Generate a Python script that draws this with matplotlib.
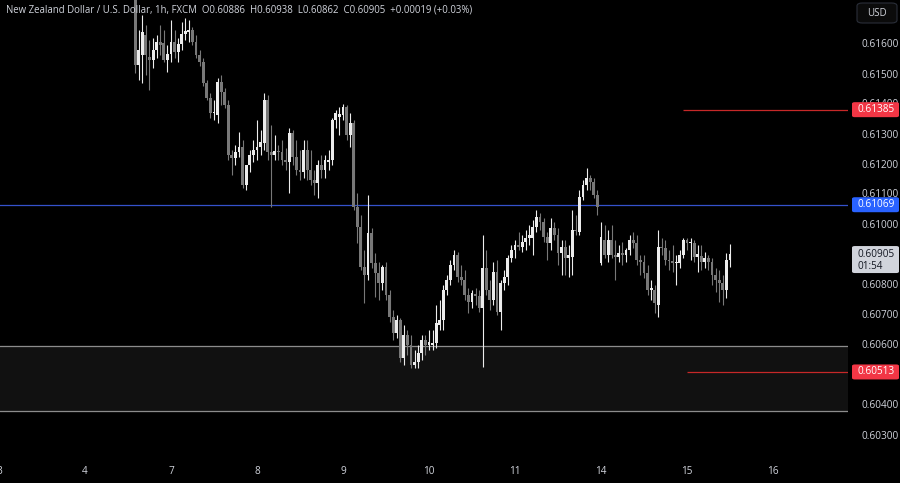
import numpy as np
import matplotlib
matplotlib.use('Agg')
import matplotlib.pyplot as plt
import matplotlib.patches as patches

# NZDUSD 1h candles (index 0 = midnight of the 3rd)
first_idx = 38
opens = [0.61766, 0.61534, 0.61567, 0.61633, 0.61560, 0.61550, 0.61583, 0.61610, 0.61607, 0.61550,
         0.61570, 0.61610, 0.61577, 0.61603, 0.61637, 0.61643, 0.61650, 0.61610, 0.61567, 0.61543,
         0.61474, 0.61424, 0.61374, 0.61367, 0.61477, 0.61444, 0.61401, 0.61234, 0.61224, 0.61244,
         0.61261, 0.61135, 0.61201, 0.61234, 0.61251, 0.61261, 0.61274, 0.61417, 0.61244, 0.61234,
         0.61248, 0.61244, 0.61218, 0.61211, 0.61307, 0.61228, 0.61184, 0.61178, 0.61251, 0.61184,
         0.61151, 0.61141, 0.61201, 0.61184, 0.61211, 0.61218, 0.61351, 0.61361, 0.61367, 0.61394,
         0.61301, 0.61341, 0.61061, 0.60995, 0.60862, 0.60835, 0.60975, 0.60875, 0.60842, 0.60809,
         0.60862, 0.60769, 0.60696, 0.60643, 0.60686, 0.60559, 0.60636, 0.60603, 0.60536, 0.60546,
         0.60576, 0.60619, 0.60603, 0.60603, 0.60609, 0.60669, 0.60686, 0.60785, 0.60819, 0.60869,
         0.60902, 0.60829, 0.60819, 0.60769, 0.60746, 0.60772, 0.60766, 0.60726, 0.60859, 0.60785,
         0.60752, 0.60845, 0.60712, 0.60809, 0.60829, 0.60892, 0.60918, 0.60935, 0.60928, 0.60945,
         0.60958, 0.60958, 0.60995, 0.61028, 0.61012, 0.60962, 0.60942, 0.60992, 0.60968, 0.60909,
         0.60928, 0.60892, 0.60895, 0.60985, 0.60978, 0.61095, 0.61135, 0.61158, 0.61145, 0.61101,
         0.60875, 0.60952, 0.60902, 0.60952, 0.60902, 0.60895, 0.60909, 0.60902, 0.60918, 0.60952,
         0.60942, 0.60885, 0.60879, 0.60842, 0.60785, 0.60785, 0.60736, 0.60928, 0.60925, 0.60885,
         0.60882, 0.60875, 0.60875, 0.60902, 0.60952, 0.60942, 0.60942, 0.60895, 0.60898, 0.60879,
         0.60892, 0.60879, 0.60835, 0.60819, 0.60809, 0.60785, 0.60886]
highs = [0.61783, 0.61650, 0.61700, 0.61666, 0.61617, 0.61623, 0.61633, 0.61666, 0.61650, 0.61600,
         0.61683, 0.61650, 0.61623, 0.61676, 0.61690, 0.61683, 0.61660, 0.61633, 0.61583, 0.61557,
         0.61484, 0.61440, 0.61417, 0.61490, 0.61500, 0.61457, 0.61417, 0.61251, 0.61268, 0.61311,
         0.61284, 0.61201, 0.61251, 0.61284, 0.61351, 0.61317, 0.61440, 0.61434, 0.61334, 0.61301,
         0.61268, 0.61284, 0.61258, 0.61324, 0.61317, 0.61284, 0.61251, 0.61284, 0.61284, 0.61251,
         0.61184, 0.61218, 0.61234, 0.61234, 0.61251, 0.61357, 0.61384, 0.61394, 0.61404, 0.61401,
         0.61374, 0.61351, 0.61108, 0.61035, 0.60918, 0.61101, 0.60992, 0.60909, 0.60879, 0.60869,
         0.60879, 0.60785, 0.60719, 0.60702, 0.60692, 0.60669, 0.60653, 0.60636, 0.60586, 0.60603,
         0.60636, 0.60636, 0.60653, 0.60653, 0.60736, 0.60752, 0.60802, 0.60835, 0.60885, 0.60918,
         0.60912, 0.60869, 0.60852, 0.60792, 0.60785, 0.60792, 0.60785, 0.60968, 0.60918, 0.60819,
         0.60879, 0.60885, 0.60819, 0.60852, 0.60902, 0.60935, 0.60952, 0.60978, 0.60968, 0.60985,
         0.61002, 0.61018, 0.61051, 0.61041, 0.61025, 0.60978, 0.61025, 0.61012, 0.60992, 0.60952,
         0.60952, 0.60935, 0.61051, 0.61035, 0.61118, 0.61151, 0.61191, 0.61168, 0.61158, 0.61118,
         0.61012, 0.61002, 0.60985, 0.61002, 0.60952, 0.60935, 0.60945, 0.60925, 0.60968, 0.60978,
         0.60968, 0.60902, 0.60902, 0.60869, 0.60819, 0.60802, 0.60985, 0.60958, 0.60952, 0.60918,
         0.60935, 0.60902, 0.60918, 0.60958, 0.60958, 0.60958, 0.60952, 0.60935, 0.60935, 0.60912,
         0.60902, 0.60892, 0.60859, 0.60852, 0.60835, 0.60909, 0.60938]
lows = [0.61507, 0.61484, 0.61474, 0.61500, 0.61450, 0.61524, 0.61557, 0.61567, 0.61543, 0.61510,
        0.61543, 0.61557, 0.61543, 0.61583, 0.61617, 0.61610, 0.61600, 0.61557, 0.61530, 0.61464,
        0.61417, 0.61357, 0.61351, 0.61341, 0.61401, 0.61391, 0.61218, 0.61168, 0.61201, 0.61228,
        0.61125, 0.61118, 0.61178, 0.61211, 0.61218, 0.61234, 0.61251, 0.61218, 0.61061, 0.61218,
        0.61218, 0.61201, 0.61184, 0.61108, 0.61201, 0.61168, 0.61151, 0.61158, 0.61151, 0.61135,
        0.61101, 0.61091, 0.61158, 0.61158, 0.61184, 0.61201, 0.61324, 0.61301, 0.61351, 0.61284,
        0.61261, 0.61051, 0.60942, 0.60852, 0.60742, 0.60819, 0.60859, 0.60762, 0.60752, 0.60785,
        0.60752, 0.60679, 0.60619, 0.60626, 0.60546, 0.60536, 0.60569, 0.60526, 0.60526, 0.60526,
        0.60553, 0.60569, 0.60586, 0.60586, 0.60593, 0.60653, 0.60653, 0.60769, 0.60802, 0.60852,
        0.60812, 0.60802, 0.60752, 0.60709, 0.60726, 0.60736, 0.60712, 0.60529, 0.60769, 0.60719,
        0.60736, 0.60702, 0.60653, 0.60785, 0.60802, 0.60879, 0.60892, 0.60918, 0.60912, 0.60918,
        0.60935, 0.60902, 0.60978, 0.60985, 0.60945, 0.60885, 0.60918, 0.60952, 0.60869, 0.60835,
        0.60835, 0.60829, 0.60835, 0.60968, 0.60968, 0.61085, 0.61118, 0.61118, 0.61091, 0.61035,
        0.60869, 0.60892, 0.60879, 0.60892, 0.60819, 0.60879, 0.60869, 0.60879, 0.60902, 0.60925,
        0.60869, 0.60835, 0.60825, 0.60769, 0.60752, 0.60709, 0.60696, 0.60902, 0.60869, 0.60852,
        0.60845, 0.60802, 0.60859, 0.60892, 0.60918, 0.60885, 0.60879, 0.60845, 0.60852, 0.60859,
        0.60852, 0.60802, 0.60779, 0.60746, 0.60736, 0.60759, 0.60862]
closes = [0.61534, 0.61583, 0.61643, 0.61567, 0.61550, 0.61583, 0.61610, 0.61600, 0.61550, 0.61570,
          0.61610, 0.61577, 0.61603, 0.61637, 0.61647, 0.61650, 0.61610, 0.61567, 0.61543, 0.61474,
          0.61424, 0.61374, 0.61377, 0.61477, 0.61444, 0.61401, 0.61234, 0.61224, 0.61244, 0.61261,
          0.61135, 0.61201, 0.61234, 0.61251, 0.61261, 0.61278, 0.61417, 0.61244, 0.61234, 0.61248,
          0.61244, 0.61218, 0.61211, 0.61307, 0.61228, 0.61184, 0.61178, 0.61251, 0.61184, 0.61151,
          0.61141, 0.61201, 0.61184, 0.61218, 0.61218, 0.61351, 0.61374, 0.61371, 0.61394, 0.61301,
          0.61341, 0.61061, 0.60995, 0.60862, 0.60835, 0.60975, 0.60875, 0.60842, 0.60809, 0.60862,
          0.60769, 0.60696, 0.60643, 0.60686, 0.60559, 0.60636, 0.60603, 0.60536, 0.60546, 0.60576,
          0.60619, 0.60603, 0.60613, 0.60609, 0.60676, 0.60686, 0.60785, 0.60819, 0.60869, 0.60902,
          0.60829, 0.60819, 0.60769, 0.60746, 0.60776, 0.60766, 0.60726, 0.60859, 0.60785, 0.60752,
          0.60845, 0.60712, 0.60809, 0.60829, 0.60892, 0.60918, 0.60935, 0.60928, 0.60945, 0.60958,
          0.60968, 0.60995, 0.61028, 0.61012, 0.60962, 0.60942, 0.60992, 0.60968, 0.60909, 0.60928,
          0.60892, 0.60902, 0.60985, 0.60982, 0.61095, 0.61135, 0.61158, 0.61145, 0.61101, 0.61061,
          0.60962, 0.60902, 0.60952, 0.60902, 0.60895, 0.60909, 0.60902, 0.60918, 0.60952, 0.60942,
          0.60885, 0.60879, 0.60842, 0.60785, 0.60792, 0.60742, 0.60928, 0.60925, 0.60885, 0.60882,
          0.60875, 0.60879, 0.60902, 0.60952, 0.60942, 0.60945, 0.60895, 0.60905, 0.60879, 0.60892,
          0.60879, 0.60835, 0.60819, 0.60809, 0.60785, 0.60885, 0.60905]

day_ticks = [0, 24, 48, 72, 96, 120, 144, 168, 192, 216]
day_labels = ['3', '4', '7', '8', '9', '10', '11', '14', '15', '16']
price_ticks = [0.603, 0.604, 0.606, 0.607, 0.608, 0.610, 0.612, 0.613, 0.615, 0.616]
# these two sit behind the level tags, only their tops show
hidden_ticks = [0.614, 0.611]

blue_level = 0.61069
red_levels = [0.61385, 0.60513]
zone = (0.60383, 0.60600)

title = ('New Zealand Dollar / U.S. Dollar, 1h, FXCM  O0.60886  H0.60938  '
         'L0.60862  C0.60905  +0.00019 (+0.03%)')

bg = '#000000'
txt = '#d1d4dc'
up_col = '#ececec'
dn_col = '#787878'
font = 'Open Sans'

fig = plt.figure(figsize=(9, 4.83), dpi=100, facecolor=bg)
ax_l, ax_b, ax_w, ax_h = 0.0, 23 / 483, 848 / 900, 460 / 483
ax = fig.add_axes([ax_l, ax_b, ax_w, ax_h], facecolor=bg)
ymin, ymax = 0.602203, 0.617496
xmin, xmax = 0.28, 236.95
ax.set_xlim(xmin, xmax)
ax.set_ylim(ymin, ymax)
for s in ax.spines.values():
    s.set_visible(False)
ax.set_xticks([])
ax.set_yticks([])

# support zone
ax.axhspan(zone[0], zone[1], color='#111111', zorder=0)
ax.axhline(zone[1], color='#8c8c8c', lw=0.9, zorder=1)
ax.axhline(zone[0], color='#8c8c8c', lw=0.9, zorder=1)

# levels
ax.axhline(blue_level, color='#3552cc', lw=0.9, zorder=1)
ax.hlines(red_levels[0], 191, xmax, color='#c62828', lw=0.9, zorder=1)
ax.hlines(red_levels[1], 192, xmax, color='#c62828', lw=0.9, zorder=1)

# candles
o = np.array(opens)
h = np.array(highs)
l = np.array(lows)
c = np.array(closes)
x = np.arange(first_idx, first_idx + len(o))
up = c >= o
cols = np.where(up, up_col, dn_col)
ax.vlines(x, l, h, colors=cols, lw=0.8, zorder=2)
body = np.maximum(np.abs(c - o), 0.000015)
ax.bar(x, body, bottom=np.minimum(o, c), width=0.8, color=cols, lw=0, zorder=3)

# title line
fig.text(6 / 900, 1 - 10 / 483, title, color=txt, fontsize=6.9, family=font,
         va='center', ha='left')

# date labels
for t, lab in zip(day_ticks, day_labels):
    ax.text(t, -12 / 460, lab, transform=ax.get_xaxis_transform(), color=txt,
            fontsize=7.2, family=font, ha='center', va='center', clip_on=False)


def fig_y(p):
    return ax_b + (p - ymin) / (ymax - ymin) * ax_h


# price scale
for p in price_ticks:
    fig.text(861 / 900, fig_y(p), '%.5f' % p, color=txt, fontsize=7.2,
             family=font, ha='left', va='center')
for p in hidden_ticks:
    fig.text(861 / 900, fig_y(p) + 1 / 483, '%.5f' % p, color=txt, fontsize=7.2,
             family=font, ha='left', va='center', zorder=1)


def price_tag(p, face, label, h_px=15):
    y0 = fig_y(p) - h_px / 2 / 483
    fig.patches.append(patches.FancyBboxPatch(
        (852 / 900, y0), 47 / 900, h_px / 483, boxstyle='round,pad=0,rounding_size=0.003',
        transform=fig.transFigure, facecolor=face, edgecolor='none', zorder=5))
    fig.text(876 / 900, fig_y(p), label, color='white', fontsize=7.2, family=font,
             ha='center', va='center', zorder=6)


price_tag(red_levels[0], '#f23645', '%.5f' % red_levels[0])
price_tag(red_levels[1], '#f23645', '%.5f' % red_levels[1])
price_tag(blue_level, '#2962ff', '%.5f' % blue_level)

# last price box
last = closes[-1]
top = fig_y(last) + 8 / 483
fig.patches.append(patches.FancyBboxPatch(
    (852 / 900, top - 27 / 483), 47 / 900, 27 / 483, boxstyle='round,pad=0,rounding_size=0.003',
    transform=fig.transFigure, facecolor='#d1d4dc', edgecolor='none', zorder=5))
fig.text(858 / 900, fig_y(last), '%.5f' % last, color='#131722', fontsize=7.2,
         family=font, ha='left', va='center', zorder=6)
fig.text(858 / 900, fig_y(last) - 12 / 483, '01:54', color='#131722', fontsize=7.2,
         family=font, ha='left', va='center', zorder=6)

# currency button
fig.patches.append(patches.FancyBboxPatch(
    (857 / 900, 1 - 23 / 483), 40 / 900, 20 / 483, boxstyle='round,pad=0,rounding_size=0.006',
    transform=fig.transFigure, facecolor='#0b0b0b', edgecolor='#2a2e39', lw=0.8, zorder=5))
fig.text(877 / 900, 1 - 13 / 483, 'USD', color=txt, fontsize=7, family=font,
         ha='center', va='center', zorder=6)

fig.savefig('out.png', dpi=100, facecolor=bg)
